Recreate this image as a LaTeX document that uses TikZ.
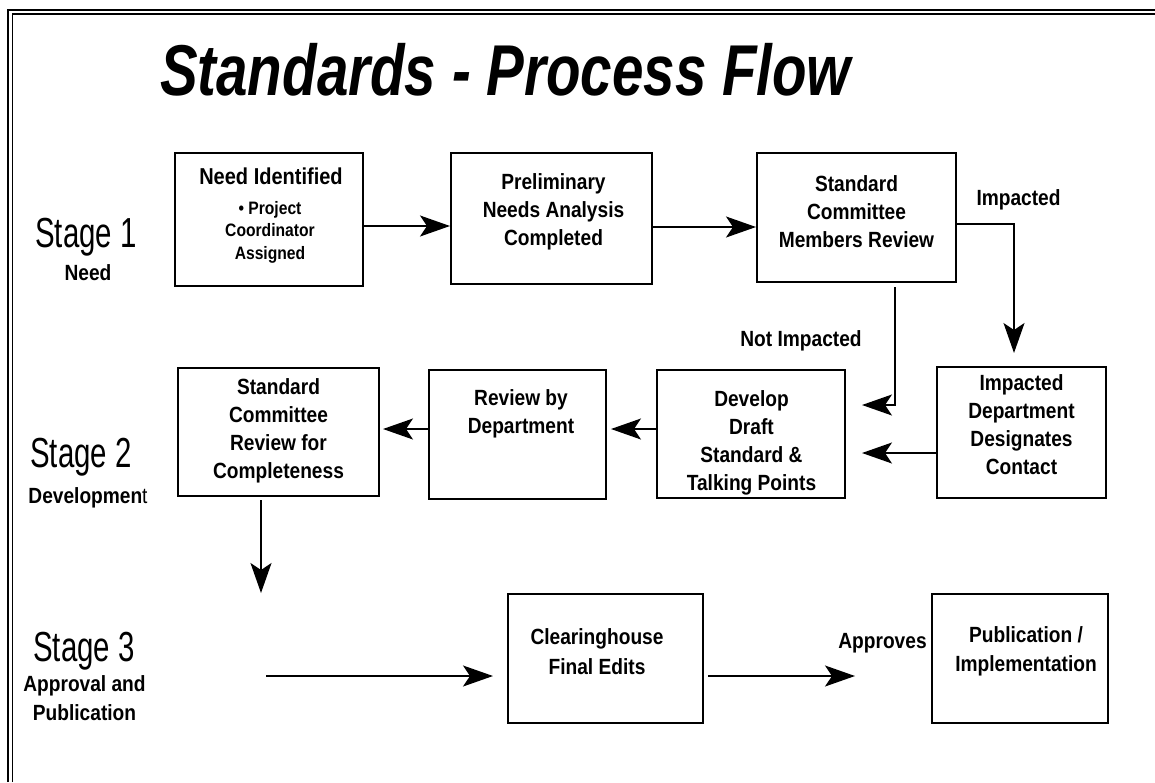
\documentclass[tikz,border=0pt]{standalone}
\usepackage{fontspec}
\setmainfont{Liberation Sans}
\newfontfamily\titlefont[FakeStretch=0.785]{Liberation Sans}
\newfontfamily\boxfont[FakeStretch=0.87]{Liberation Sans}
\newfontfamily\stagefont[FakeStretch=0.70]{Liberation Sans}
\usetikzlibrary{arrows.meta}

\tikzset{
  box/.style={draw, line width=2pt, inner sep=0pt, minimum height=129pt},
  boxtext/.style={anchor=north, align=center, inner sep=0pt, font=\boxfont\bfseries\fontsize{22}{28}\selectfont},
  stagelabel/.style={anchor=north, inner sep=0pt, font=\stagefont\fontsize{42}{48}\selectfont},
  sublabel/.style={anchor=north, align=center, inner sep=0pt, font=\boxfont\bfseries\fontsize{22}{29}\selectfont},
  flow/.style={line width=1.6pt, -{Stealth[length=30pt,width=21pt,inset=7pt]}},
}

\begin{document}
\begin{tikzpicture}[x=1pt, y=-1pt]
        \useasboundingbox (0,0) rectangle (1155,782);

        % Frame
        \draw[line width=2.4pt] (8,782) -- (8,10) -- (1155,10);
        \draw[line width=1.8pt] (12.5,782) -- (12.5,14) -- (1155,14);

        % Title
        \node[anchor=north, inner sep=0pt, font=\titlefont\bfseries\itshape\fontsize{72}{80}\selectfont] (title) at (505.5,43) {Standards - Process Flow};

        % Stages
        \node[stagelabel] (stage1) at (86,218) {Stage 1};
        \node[sublabel] (stage1sub) at (88,264) {Need};
        \node[stagelabel] (stage2) at (81,438) {Stage 2};
        \node[sublabel] (stage2sub) at (88,487) {Developmen{\mdseries t}};
        \node[stagelabel] (stage3) at (84,632) {Stage 3};
        \node[sublabel] (stage3sub) at (84.5,675) {Approval and\\Publication};

        % Boxes
        \node[box, minimum width=188pt, minimum height=133pt] (needid) at (269,219.5) {};
        \node[box, minimum width=201pt, minimum height=131pt] (prelim) at (551.5,218.5) {};
        \node[box, minimum width=199pt] (stdrev) at (856.5,217.5) {};
        \node[box, minimum width=169pt, minimum height=131pt] (impdept) at (1021.5,432.5) {};
        \node[box, minimum width=188pt, minimum height=128pt] (develop) at (751,434) {};
        \node[box, minimum width=177pt] (deptrev) at (517.5,434.5) {};
        \node[box, minimum width=201pt, minimum height=128pt] (complete) at (278.5,432) {};
        \node[box, minimum width=195pt] (clearing) at (605.5,658.5) {};
        \node[box, minimum width=176pt] (publish) at (1020,658.5) {};

        % Box texts
        \node[boxtext, font=\boxfont\bfseries\fontsize{23}{28}\selectfont] (needidtext) at (271,168) {Need Identified};
        \node[boxtext, font=\boxfont\bfseries\fontsize{18}{22.7}\selectfont] (needidsub) at (270,201) {\textbullet{} Project\\Coordinator\\Assigned};
        \node[boxtext] (prelimtext) at (553.5,173) {Preliminary\\Needs Analysis\\Completed};
        \node[boxtext] (stdrevtext) at (856.5,175) {Standard\\Committee\\Members Review};
        \node[boxtext] (impdepttext) at (1021.5,374) {Impacted\\Department\\Designates\\Contact};
        \node[boxtext] (developtext) at (751.5,390) {Develop\\Draft\\Standard \&\\Talking Points};
        \node[boxtext] (deptrevtext) at (521,389) {Review by\\Department};
        \node[boxtext] (completetext) at (278.5,378) {Standard\\Committee\\Review for\\Completeness};
        \node[boxtext, font=\boxfont\bfseries\fontsize{22}{30}\selectfont] (clearingtext) at (597,628) {Clearinghouse\\Final Edits};
        \node[boxtext, font=\boxfont\bfseries\fontsize{22}{29}\selectfont] (publishtext) at (1026,626) {Publication /\\Implementation};

        % Edge labels
        \node[sublabel] (impactedlbl) at (1018.5,189) {Impacted};
        \node[sublabel] (notimpactedlbl) at (801,330) {Not Impacted};
        \node[sublabel] (approveslbl) at (882.5,633) {Approves};

        % Free ends
        \coordinate (stage3in) at (261,593);
        \coordinate (stage3out) at (266,676);

        % Edges
        \draw[flow] (needid.east |- 0,226) -- (prelim.west |- 0,226);
        \draw[flow] (prelim.east |- 0,227) -- (stdrev.west |- 0,227);
        \draw[flow, shorten >=13pt] (stdrev.east |- 0,224) -| (impdept.north -| 1014,0);
        \draw[flow, shorten <=4pt, shorten >=16pt] (stdrev.south -| 895,0) |- (develop.east |- 0,405);
        \draw[flow, shorten >=16pt] (impdept.west |- 0,453) -- (develop.east |- 0,453);
        \draw[flow, shorten >=4pt] (develop.west |- 0,429) -- (deptrev.east |- 0,429);
        \draw[flow, shorten >=3pt] (deptrev.west |- 0,429) -- (complete.east |- 0,429);
        \draw[flow, shorten <=3pt] (complete.south -| 261,0) -- (stage3in);
        \draw[flow, shorten >=14pt] (stage3out) -- (clearing.west |- 0,676);
        \draw[flow, shorten <=4pt, shorten >=76pt] (clearing.east |- 0,676) -- (publish.west |- 0,676);

    \end{tikzpicture}
\end{document}
